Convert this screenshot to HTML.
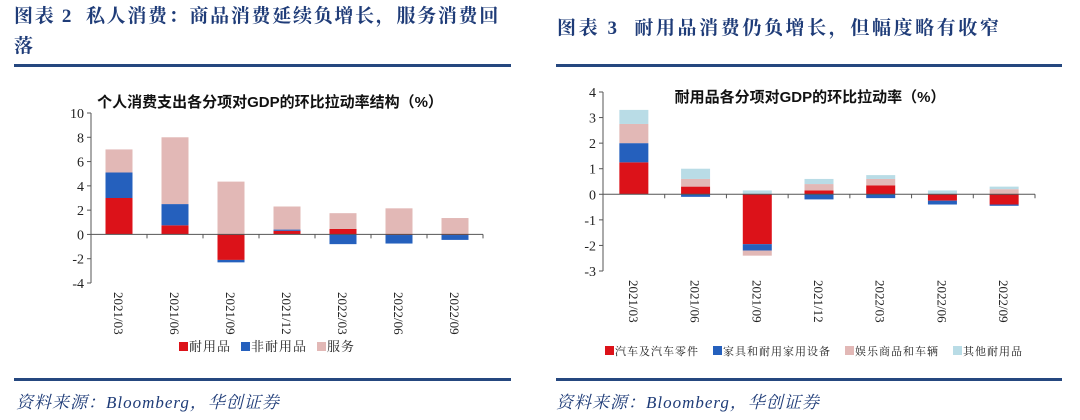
<!DOCTYPE html>
<html><head><meta charset="utf-8">
<style>
body{margin:0;width:1080px;height:420px;background:#fff;overflow:hidden;position:relative;font-family:"Liberation Serif","Noto Serif CJK SC",serif;}
.t{position:absolute;color:#1f3c78;font-weight:bold;font-size:19px;letter-spacing:3px;font-family:"Liberation Serif","Noto Serif CJK SC",serif;white-space:nowrap;}
.rule{position:absolute;height:3px;background:#25477f;}
.src{position:absolute;color:#1f3c78;font-style:italic;font-size:17px;letter-spacing:1px;font-family:"Liberation Serif","Noto Serif CJK SC",serif;}
svg{position:absolute;left:0;top:0}
</style></head><body>
<div class="t" style="left:14px;top:2px;line-height:30px;letter-spacing:1.7px">图表 2&nbsp;&nbsp;私人消费：商品消费延续负增长，服务消费回<br>落</div>
<div class="rule" style="left:14px;top:64px;width:497px"></div>
<div class="rule" style="left:14px;top:378px;width:497px"></div>
<div class="src" style="left:16px;top:388px">资料来源：Bloomberg，华创证券</div>
<div class="t" style="left:557px;top:13px;letter-spacing:2.6px">图表 3&nbsp;&nbsp;耐用品消费仍负增长，但幅度略有收窄</div>
<div class="rule" style="left:556px;top:64px;width:506px"></div>
<div class="rule" style="left:556px;top:378px;width:506px"></div>
<div class="src" style="left:556px;top:388px">资料来源：Bloomberg，华创证券</div>
<svg id="c" width="1080" height="420"></svg>
<script>
const categories=["2021/03","2021/06","2021/09","2021/12","2022/03","2022/06","2022/09"];
const leftNames=["耐用品","非耐用品","服务"];
const leftDurable=[3.0,0.75,-2.1,0.3,0.45,-0.05,-0.05];
const leftNondurable=[2.1,1.75,-0.2,0.1,-0.8,-0.7,-0.4];
const leftServices=[1.9,5.5,4.35,1.9,1.3,2.15,1.35];
const leftTicks=[10,8,6,4,2,0,-2,-4];
const rightNames=["汽车及汽车零件","家具和耐用家用设备","娱乐商品和车辆","其他耐用品"];
const rightAutos=[1.25,0.3,-1.95,0.15,0.35,-0.25,-0.4];
const rightFurn=[0.75,-0.1,-0.25,-0.2,-0.15,-0.15,-0.05];
const rightRec=[0.75,0.3,-0.2,0.25,0.25,0.0,0.2];
const rightOther=[0.55,0.4,0.15,0.2,0.15,0.15,0.1];
const rightTicks=[4,3,2,1,0,-1,-2,-3];
const colors=["#dc1219","#2560bd","#e2b8b6","#b9dce6"];
const NS="http://www.w3.org/2000/svg";
const svg=document.getElementById('c');
function el(t,a,txt){const e=document.createElementNS(NS,t);for(const k in a)e.setAttribute(k,a[k]);if(txt!==undefined)e.textContent=txt;svg.appendChild(e);return e;}
function chart(o){
  const y=v=>o.y0+(o.max-v)*(o.y1-o.y0)/(o.max-o.min);
  const step=(o.x1-o.x0)/categories.length;
  const t=el('text',{x:o.tx,y:o.ty,'font-size':15,'font-weight':'bold','font-family':'"Liberation Sans","Noto Sans CJK SC",sans-serif','text-anchor':'middle',fill:'#111'},o.title);
  
  const ax=el('line',{x1:o.x0,y1:y(o.max),x2:o.x0,y2:y(o.min),stroke:'#555','stroke-width':1});
  
  o.ticks.forEach(v=>{
    el('line',{x1:o.x0-4,y1:y(v),x2:o.x0,y2:y(v),stroke:'#555'});
    const l=el('text',{x:o.x0-7,y:y(v)+5,'font-size':14,'text-anchor':'end',fill:'#222'},String(v));
    
  });
  categories.forEach((c,i)=>{
    const cx=o.x0+step*(i+0.5);
    let pos=0,neg=0;
    o.series.forEach((s,k)=>{
      const v=s[i];if(v===0)return;
      let a,b;
      if(v>0){a=pos;b=pos+v;pos=b;}else{a=neg;b=neg+v;neg=b;}
      const r=el('rect',{x:cx-o.bw/2,y:Math.min(y(a),y(b)),width:o.bw,height:Math.abs(y(a)-y(b)),fill:colors[k]});
      
    });
    el('line',{x1:o.x0+step*(i+1),y1:y(0),x2:o.x0+step*(i+1),y2:y(0)+4,stroke:'#555'});
    const lab=el('text',{x:0,y:0,'font-size':13,fill:'#222',transform:`translate(${cx-5},${o.ly}) rotate(90)`},c);
    
  });
  const zl=el('line',{x1:o.x0,y1:y(0),x2:o.x1,y2:y(0),stroke:'#555','stroke-width':1});
  
  let lx=o.legX;
  o.names.forEach((n,k)=>{
    el('rect',{x:lx,y:o.legY-5,width:9,height:9,fill:colors[k]});
    const lt=el('text',{x:lx+10,y:o.legY+4,'font-size':o.legFs,fill:'#222','letter-spacing':1,'font-family':'"Liberation Serif","Noto Serif CJK SC",serif'},n);
    
    lx+=10+n.length*(o.legFs+1)+o.legGap;
  });
}
chart({key:'left',title:'个人消费支出各分项对GDP的环比拉动率结构（%）',tx:270,ty:107,x0:91,x1:483,y0:113,y1:283,max:10,min:-4,bw:27,ticks:leftTicks,series:[leftDurable,leftNondurable,leftServices],names:leftNames,legX:179,legY:347,legFs:13,legGap:10,ly:292});
chart({key:'right',title:'耐用品各分项对GDP的环比拉动率（%）',tx:810,ty:102,x0:603,x1:1035,y0:92,y1:271,max:4,min:-3,bw:29,ticks:rightTicks,series:[rightAutos,rightFurn,rightRec,rightOther],names:rightNames,legX:605,legY:351,legFs:11,legGap:14,ly:280});
</script>
</body></html>
